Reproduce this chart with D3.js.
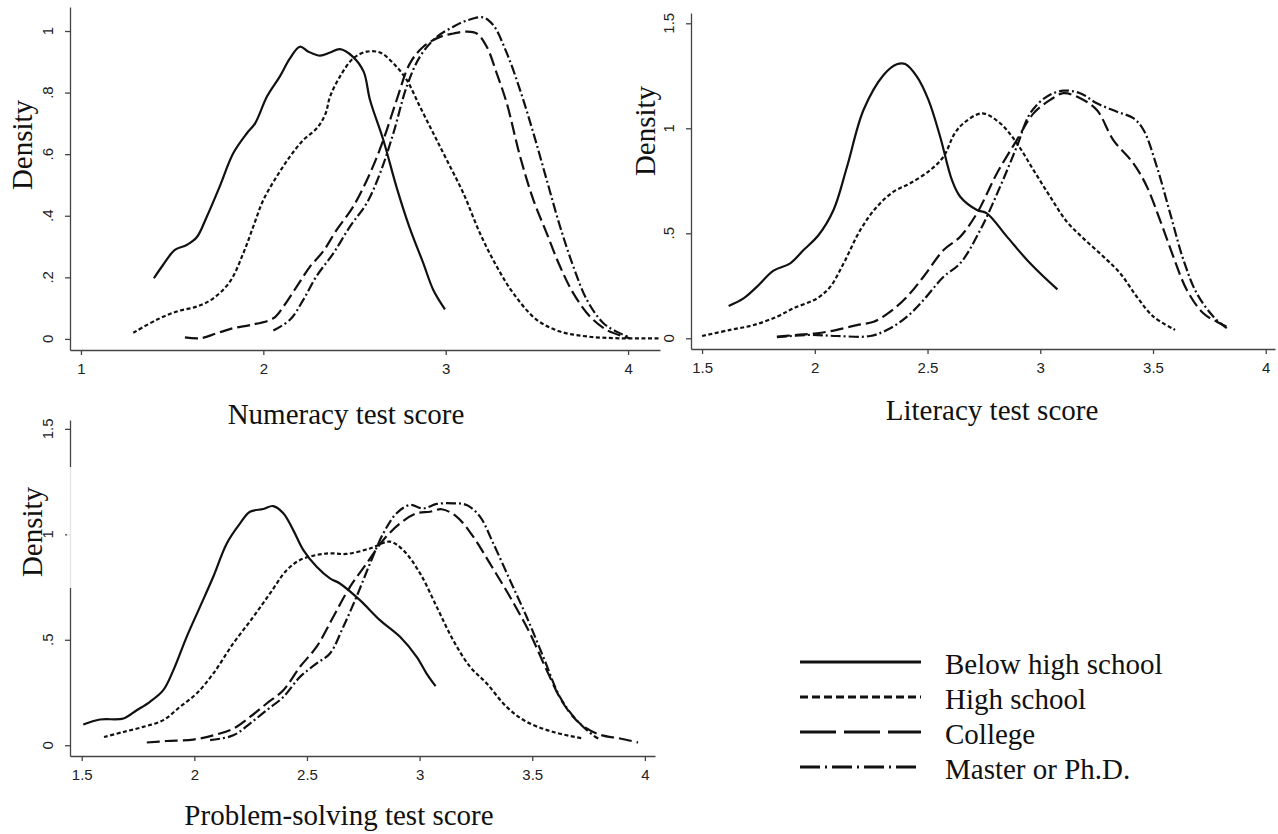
<!DOCTYPE html>
<html>
<head>
<meta charset="utf-8">
<script src="https://cdn.jsdelivr.net/npm/d3@7"></script>
<style>
  body { margin: 0; background: #fff; }
  .tick line, .domain { stroke: #444; stroke-width: 1.3; }
  .ticklab { font-family: "Liberation Sans", Arial, sans-serif; font-size: 15px; fill: #222; }
  .title { font-family: "Liberation Serif", "Times New Roman", serif; font-size: 29px; fill: #111; }
</style>
</head>
<body>
<svg id="chart" width="1278" height="834"></svg>
<script>
// education groups (legend order)
var groups = ["Below high school", "High school", "College", "Master or Ph.D."];

// ---- Numeracy: [score, density]
var numBelow = [[1.40,0.197],[1.45,0.240],[1.515,0.289],[1.58,0.305],[1.635,0.330],[1.69,0.397],[1.76,0.494],[1.835,0.603],[1.91,0.668],[1.955,0.700],[2.02,0.787],[2.09,0.852],[2.146,0.911],[2.20,0.949],[2.247,0.933],[2.311,0.920],[2.366,0.930],[2.42,0.941],[2.49,0.917],[2.55,0.868],[2.585,0.776],[2.658,0.646],[2.73,0.494],[2.80,0.365],[2.877,0.246],[2.932,0.159],[2.996,0.096]];
var numHigh = [[1.287,0.020],[1.415,0.062],[1.525,0.089],[1.635,0.105],[1.726,0.132],[1.817,0.186],[1.89,0.278],[1.945,0.365],[2.0,0.451],[2.073,0.527],[2.146,0.592],[2.219,0.646],[2.293,0.684],[2.34,0.73],[2.366,0.787],[2.42,0.852],[2.493,0.911],[2.567,0.933],[2.64,0.930],[2.713,0.895],[2.786,0.841],[2.859,0.754],[2.932,0.668],[3.006,0.581],[3.097,0.473],[3.188,0.343],[3.28,0.235],[3.371,0.148],[3.499,0.062],[3.627,0.024],[3.774,0.008],[3.956,0.002],[4.175,0.002]];
var numCollege = [[1.57,0.005],[1.653,0.002],[1.744,0.018],[1.835,0.035],[1.927,0.045],[2.055,0.067],[2.11,0.105],[2.183,0.170],[2.256,0.235],[2.329,0.285],[2.402,0.354],[2.493,0.430],[2.585,0.538],[2.658,0.646],[2.731,0.776],[2.804,0.895],[2.877,0.949],[2.969,0.981],[3.042,0.992],[3.115,0.998],[3.17,0.992],[3.225,0.949],[3.28,0.862],[3.335,0.765],[3.408,0.592],[3.481,0.451],[3.554,0.343],[3.627,0.235],[3.70,0.148],[3.792,0.072],[3.883,0.029],[3.974,0.008],[4.01,0.002]];
var numMaster = [[2.055,0.027],[2.146,0.062],[2.219,0.127],[2.293,0.205],[2.384,0.278],[2.475,0.365],[2.567,0.441],[2.64,0.538],[2.713,0.668],[2.786,0.819],[2.859,0.917],[2.951,0.981],[3.042,1.014],[3.115,1.034],[3.206,1.044],[3.261,1.019],[3.335,0.928],[3.408,0.808],[3.481,0.668],[3.554,0.516],[3.627,0.365],[3.70,0.235],[3.774,0.127],[3.865,0.051],[3.956,0.018],[4.01,0.005]];

// ---- Literacy
var litBelow = [[1.618,0.154],[1.684,0.190],[1.744,0.246],[1.817,0.322],[1.891,0.357],[1.95,0.420],[2.017,0.492],[2.083,0.611],[2.143,0.817],[2.216,1.087],[2.305,1.254],[2.364,1.305],[2.401,1.306],[2.453,1.246],[2.504,1.135],[2.556,0.960],[2.608,0.754],[2.645,0.674],[2.719,0.611],[2.763,0.595],[2.852,0.484],[2.955,0.357],[3.076,0.233]];
var litHigh = [[1.50,0.011],[1.625,0.040],[1.729,0.063],[1.832,0.103],[1.906,0.143],[2.01,0.190],[2.069,0.246],[2.128,0.357],[2.202,0.516],[2.276,0.627],[2.349,0.698],[2.423,0.738],[2.512,0.801],[2.571,0.865],[2.62,0.975],[2.66,1.024],[2.741,1.071],[2.822,1.024],[2.896,0.929],[2.97,0.801],[3.044,0.674],[3.118,0.555],[3.191,0.476],[3.28,0.389],[3.354,0.310],[3.428,0.198],[3.502,0.103],[3.598,0.040]];
var litCollege = [[1.832,0.008],[1.921,0.016],[2.01,0.024],[2.098,0.040],[2.187,0.063],[2.261,0.079],[2.335,0.127],[2.409,0.198],[2.482,0.293],[2.571,0.420],[2.645,0.484],[2.719,0.595],[2.808,0.786],[2.896,0.944],[2.97,1.071],[3.044,1.135],[3.103,1.167],[3.177,1.143],[3.251,1.087],[3.324,0.944],[3.413,0.833],[3.473,0.722],[3.531,0.563],[3.59,0.389],[3.65,0.230],[3.723,0.119],[3.783,0.079],[3.827,0.055]];
var litMaster = [[1.832,0.005],[1.98,0.016],[2.098,0.011],[2.246,0.011],[2.335,0.048],[2.409,0.103],[2.482,0.182],[2.571,0.293],[2.645,0.357],[2.734,0.516],[2.822,0.722],[2.896,0.913],[2.955,1.071],[3.029,1.151],[3.103,1.179],[3.177,1.167],[3.251,1.119],[3.34,1.079],[3.413,1.048],[3.458,0.992],[3.517,0.817],[3.576,0.595],[3.635,0.373],[3.694,0.214],[3.768,0.103],[3.827,0.048]];

// ---- Problem-solving
var psBelow = [[1.507,0.098],[1.581,0.122],[1.685,0.127],[1.744,0.166],[1.803,0.206],[1.862,0.261],[1.907,0.356],[1.966,0.514],[2.025,0.656],[2.084,0.799],[2.144,0.957],[2.203,1.052],[2.247,1.107],[2.306,1.120],[2.35,1.134],[2.395,1.100],[2.439,1.020],[2.484,0.925],[2.543,0.846],[2.602,0.791],[2.646,0.767],[2.735,0.688],[2.824,0.593],[2.913,0.514],[2.987,0.419],[3.031,0.340],[3.071,0.280]];
var psHigh = [[1.599,0.039],[1.685,0.063],[1.773,0.087],[1.862,0.119],[1.936,0.182],[2.01,0.245],[2.084,0.340],[2.173,0.483],[2.262,0.609],[2.336,0.720],[2.41,0.830],[2.469,0.878],[2.543,0.902],[2.602,0.910],[2.676,0.907],[2.78,0.933],[2.868,0.965],[2.927,0.925],[3.002,0.815],[3.076,0.656],[3.149,0.498],[3.224,0.372],[3.298,0.293],[3.386,0.182],[3.475,0.111],[3.593,0.063],[3.726,0.032]];
var psCollege = [[1.789,0.013],[1.877,0.020],[1.995,0.027],[2.084,0.047],[2.173,0.079],[2.247,0.134],[2.321,0.198],[2.395,0.261],[2.469,0.372],[2.543,0.467],[2.617,0.609],[2.691,0.751],[2.765,0.862],[2.839,0.973],[2.913,1.052],[2.987,1.100],[3.046,1.107],[3.098,1.119],[3.164,1.084],[3.238,0.989],[3.312,0.862],[3.401,0.704],[3.49,0.530],[3.564,0.356],[3.638,0.198],[3.712,0.103],[3.80,0.050],[3.89,0.032],[3.97,0.013]];
var psMaster = [[2.07,0.024],[2.173,0.047],[2.247,0.103],[2.321,0.166],[2.395,0.229],[2.469,0.324],[2.543,0.388],[2.602,0.435],[2.661,0.561],[2.72,0.704],[2.78,0.862],[2.839,1.005],[2.898,1.100],[2.957,1.139],[3.016,1.123],[3.076,1.144],[3.149,1.147],[3.209,1.139],[3.268,1.084],[3.327,0.957],[3.401,0.783],[3.475,0.609],[3.549,0.419],[3.623,0.229],[3.697,0.119],[3.771,0.047],[3.793,0.032]];

// axis ticks
var numTicksX = [1, 2, 3, 4];
var numTicksY = [0, 0.2, 0.4, 0.6, 0.8, 1];
var halfTicksX = [1.5, 2, 2.5, 3, 3.5, 4];
var halfTicksY = [0, 0.5, 1, 1.5];

var dashes = [null, "4,2.5", "13,5", "10,3,2,3"];
var legendDashes = [null, "8,4", "36,8", "20,5,2,5"];

var svg = d3.select("#chart");

// Stata style labels: .2 instead of 0.2
function fmt(d) {
    var s = String(d);
    return (d > 0 && d < 1) ? s.replace(/^0/, "") : s;
}

function drawPanel(p) {
    var x = d3.scaleLinear().domain(p.xDomain).range([p.left, p.right]);
    var y = d3.scaleLinear().domain(p.yDomain).range([p.bottom, p.top]);
    var g = svg.append("g");

    g.append("g")
        .attr("transform", "translate(0," + p.bottom + ")")
        .call(d3.axisBottom(x).tickValues(p.xTicks).tickSize(5).tickSizeOuter(0).tickPadding(8).tickFormat(fmt))
        .call(function (a) {
            a.selectAll("text").attr("class", "ticklab").attr("font-family", null).attr("font-size", null).attr("fill", null);
        });

    g.append("g")
        .attr("transform", "translate(" + p.left + ",0)")
        .call(d3.axisLeft(y).tickValues(p.yTicks).tickSize(5).tickSizeOuter(0).tickFormat(""));

    if (p.patch) {
        // Density label in this panel sits on a white box over the axis line
        g.append("rect").attr("x", p.left - 3).attr("y", p.patch[0]).attr("width", 6)
            .attr("height", p.patch[1] - p.patch[0]).attr("fill", "#fff").attr("opacity", 0.85);
    }

    g.append("text").attr("class", "title")
        .attr("transform", "translate(" + p.densX + "," + p.densY + ") rotate(-90)")
        .attr("text-anchor", "middle").attr("dy", "0.35em").text("Density");

    g.selectAll(".ylab").data(p.yTicks).enter().append("text")
        .attr("class", "ticklab")
        .attr("transform", function (d) { return "translate(" + (p.left - 22) + "," + y(d) + ") rotate(-90)"; })
        .attr("text-anchor", "middle").attr("dy", "0.35em").text(fmt);

    g.append("text").attr("class", "title")
        .attr("x", p.titleX).attr("y", p.titleY).attr("text-anchor", "middle").attr("dy", "0.35em")
        .text(p.title);

    var line = d3.line()
        .x(function (d) { return x(d[0]); })
        .y(function (d) { return y(d[1]); })
        .curve(d3.curveCatmullRom.alpha(0.5));

    p.series.forEach(function (s, i) {
        g.append("path").datum(s)
            .attr("d", line)
            .attr("fill", "none")
            .attr("stroke", "#111")
            .attr("stroke-width", 2.2)
            .attr("stroke-dasharray", dashes[i]);
    });
}

drawPanel({
    left: 70, right: 660, top: 7, bottom: 350,
    xDomain: [0.94, 4.175], yDomain: [-0.036, 1.078],
    xTicks: numTicksX, yTicks: numTicksY,
    densX: 22, densY: 145, titleX: 346, titleY: 414,
    title: "Numeracy test score",
    series: [numBelow, numHigh, numCollege, numMaster]
});

drawPanel({
    left: 691, right: 1275, top: 13, bottom: 349,
    xDomain: [1.451, 4.041], yDomain: [-0.051, 1.549],
    xTicks: halfTicksX, yTicks: halfTicksY,
    densX: 645, densY: 131, titleX: 992, titleY: 410,
    title: "Literacy test score",
    series: [litBelow, litHigh, litCollege, litMaster]
});

drawPanel({
    left: 70, right: 655, top: 420, bottom: 756,
    xDomain: [1.448, 4.045], yDomain: [-0.051, 1.542],
    xTicks: halfTicksX, yTicks: halfTicksY,
    densX: 32, densY: 532, titleX: 339, titleY: 815,
    title: "Problem-solving test score",
    patch: [467, 588],
    series: [psBelow, psHigh, psCollege, psMaster]
});

// legend
var leg = svg.append("g");
var legY = d3.scalePoint().domain(groups).range([664, 769]);
groups.forEach(function (name, i) {
    leg.append("line")
        .attr("x1", 800).attr("x2", 921)
        .attr("y1", legY(name) - 2).attr("y2", legY(name) - 2)
        .attr("stroke", "#111").attr("stroke-width", 3)
        .attr("stroke-dasharray", legendDashes[i]);
    leg.append("text").attr("class", "title")
        .attr("x", 945).attr("y", legY(name)).attr("dy", "0.35em")
        .text(name);
});
</script>
</body>
</html>
